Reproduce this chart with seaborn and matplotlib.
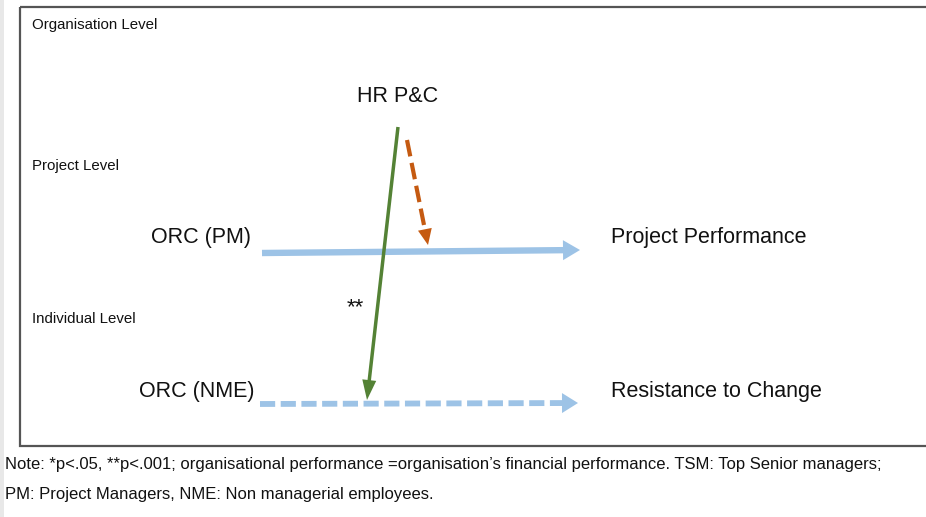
import matplotlib
matplotlib.use("Agg")
import matplotlib.pyplot as plt
from matplotlib.patches import Rectangle
import seaborn as sns
import numpy as np
import pandas as pd

#%% Diagram content
level_labels = ["Organisation Level", "Project Level", "Individual Level"]
node_labels = ["HR P&C", "ORC (PM)", "Project Performance", "ORC (NME)", "Resistance to Change"]
sig_label = "**"
note_lines = ["Note: *p<.05, **p<.001; organisational performance =organisation\u2019s financial performance. TSM: Top Senior managers;",
              "PM: Project Managers, NME: Non managerial employees."]

#%% Layout (pixel coords, y down)
level_pos = [(32, 25), (32, 166), (32, 319)]
node_pos = [(398, 97), (201, 238), (709, 238), (197, 392), (716, 392)]
sig_pos = (355, 308)
note_pos = [(5, 465), (5, 494)]

# arrows between nodes
paths = pd.DataFrame({
    "x0": [262, 260, 398, 407],
    "y0": [253, 404, 127, 140],
    "x1": [580, 578, 367, 428],
    "y1": [250, 403, 400, 245],
    "colour": ["#9DC3E6", "#9DC3E6", "#548235", "#C55A11"],
    "lw": [4.6, 4.2, 2.5, 3.0],           # points
    "head_len": [17, 16, 20, 16],          # px
    "head_w": [10, 10, 7, 7],              # half width px
    "dash": [None, (2.6, 0.95), None, (4.0, 1.6)],
})

sns.set_theme(style="white")
plt.rcParams["font.family"] = ["Liberation Sans", "DejaVu Sans"]

fig = plt.figure(figsize=(9.26, 5.17), dpi=100)
ax = fig.add_axes([0, 0, 1, 1])
ax.set_xlim(0, 926)
ax.set_ylim(517, 0)
ax.axis("off")

# left grey strip and frame
ax.add_patch(Rectangle((0, 0), 4, 517, color="#E8E8E8", lw=0))
ax.add_patch(Rectangle((20, 7), 920, 439, fill=False, ec="#555555", lw=1.6))

for i, row in paths.iterrows():
    d = np.array([row.x1 - row.x0, row.y1 - row.y0], dtype=float)
    u = d / np.hypot(*d)
    n = np.array([-u[1], u[0]])
    tip = np.array([row.x1, row.y1], dtype=float)
    base = tip - u * row.head_len
    seg = pd.DataFrame({"x": [row.x0, base[0] + u[0] * 1], "y": [row.y0, base[1] + u[1] * 1]})
    kw = dict(solid_capstyle="butt", dash_capstyle="butt")
    sns.lineplot(data=seg, x="x", y="y", ax=ax, color=row.colour, lw=row.lw,
                 sort=False, estimator=None, legend=False, **kw)
    if row.dash is not None:
        ax.lines[-1].set_dashes(row.dash)
    tri = np.array([tip, base + n * row.head_w, base - n * row.head_w])
    ax.fill(tri[:, 0], tri[:, 1], color=row.colour, lw=0)

ax.set_xlim(0, 926)
ax.set_ylim(517, 0)

for lab, (x, y) in zip(level_labels, level_pos):
    ax.text(x, y, lab, fontsize=10.8, ha="left", va="center", color="#111111")

for lab, (x, y) in zip(node_labels, node_pos):
    ax.text(x, y, lab, fontsize=15.5, ha="center", va="center", color="#111111")

ax.text(sig_pos[0], sig_pos[1], sig_label, fontsize=16, ha="center", va="center", color="#111111")

for line, (x, y) in zip(note_lines, note_pos):
    ax.text(x, y, line, fontsize=12, ha="left", va="center", color="#111111")

fig.savefig("out.png", dpi=100)
